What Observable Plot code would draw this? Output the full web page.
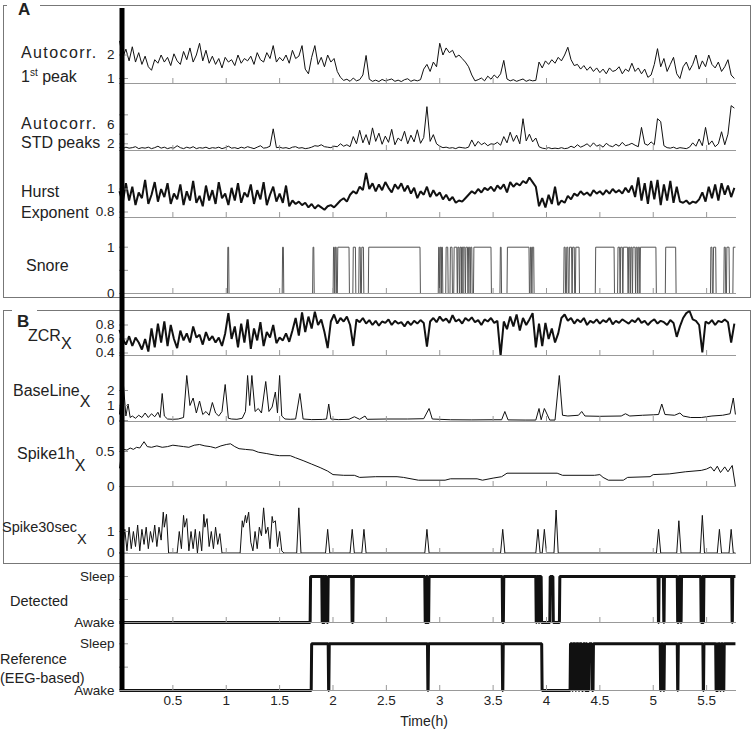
<!DOCTYPE html>
<html><head><meta charset="utf-8">
<script src="https://cdn.jsdelivr.net/npm/d3@7"></script>
<script src="https://cdn.jsdelivr.net/npm/@observablehq/plot@0.6"></script>
<style>
body{margin:0;background:#fff;font-family:Arial,"Liberation Sans",sans-serif;color:#222}
#chart{position:relative;width:753px;height:731px;overflow:hidden;background:#fff}
.box{position:absolute;border:1px solid #777;box-sizing:border-box}
.mask{position:absolute;background:#fff}
.lbl{position:absolute;font-size:16px;line-height:1;white-space:nowrap;transform:translateY(-50%)}
.sm{font-size:14.5px}
.ac{letter-spacing:1.4px}
.sub{position:relative}
.sup{position:relative;font-size:10px;top:-6px}
.big{position:absolute;font-size:17px;font-weight:bold;line-height:1;transform:translateY(-50%)}
</style></head><body><div id="chart"></div>
<script>
// ---------- data ----------
const DT = 0.03;          // sampling step (h) of the regularly sampled features
const TMAX = 5.78;
const timeTicks = [0.5, 1, 1.5, 2, 2.5, 3, 3.5, 4, 4.5, 5, 5.5];

const ac1 = [
2.6,1.9,2.25,1.75,2.35,1.7,2.1,1.6,1.95,1.5,
1.35,1.8,1.65,2.0,1.7,1.9,1.55,2.05,1.75,1.6,
2.15,1.8,2.3,1.7,2.0,2.5,1.75,2.2,1.65,1.95,
1.6,1.85,1.45,1.9,1.7,1.8,1.55,2.0,1.65,1.85,
1.75,1.95,1.6,2.1,1.8,1.7,2.1,1.85,2.4,1.7,
1.9,1.75,2.0,1.65,2.2,1.85,1.95,2.4,1.4,1.2,
1.9,2.4,1.6,1.9,1.5,2.0,1.7,1.85,1.3,1.05,
0.92,0.97,0.88,1.02,0.9,0.95,1.15,1.98,0.97,0.88,
0.93,0.87,0.96,0.9,0.94,0.98,0.88,0.93,0.87,0.95,
0.99,0.88,0.94,0.9,0.95,1.4,1.6,1.3,1.7,1.5,
2.5,2.0,2.3,2.1,2.2,1.9,2.0,1.85,1.7,1.5,
1.15,0.9,0.95,1.02,0.9,1.1,0.97,1.15,1.02,1.2,
1.77,0.98,0.9,0.95,0.88,0.93,0.98,0.88,0.94,0.9,
0.92,1.7,1.45,1.75,1.6,1.8,1.65,1.9,1.75,2.0,
2.33,1.8,1.55,1.6,1.4,1.55,1.35,1.5,1.3,1.45,
1.25,1.4,1.2,1.45,1.3,1.35,1.5,1.2,1.4,1.3,
1.65,1.3,1.45,1.2,1.4,1.05,1.15,1.6,2.27,1.5,
1.85,1.3,1.6,1.9,1.2,1.0,1.5,1.7,1.35,1.6,
2.0,1.4,1.75,1.5,2.0,1.6,1.45,1.7,1.3,1.5,
1.8,1.15,1.0];

const acStd = [
1.2,1.0,1.3,1.1,1.2,1.4,1.0,1.2,1.1,1.3,
1.0,1.2,1.5,1.1,1.3,1.0,1.2,1.1,1.6,1.2,
1.0,1.3,1.1,1.4,1.0,1.2,1.1,1.3,1.0,1.2,
1.1,1.3,1.0,1.2,1.5,1.1,1.2,1.0,1.3,1.1,
1.4,1.2,1.0,1.3,1.6,1.1,1.2,1.5,5.1,1.2,
1.3,1.1,1.2,1.0,1.3,1.4,1.1,1.2,1.0,1.1,
1.3,1.6,1.5,1.8,1.4,1.3,1.2,1.5,1.4,2.0,
1.5,1.8,1.4,3.5,2.0,4.8,2.2,3.9,1.8,5.3,
2.5,4.2,1.9,3.6,2.3,5.0,1.8,3.2,2.6,4.6,
2.0,3.8,2.4,4.9,2.1,3.3,9.7,2.5,3.9,2.0,
1.5,1.2,1.3,1.1,1.2,1.0,1.3,1.2,1.1,1.3,
2.8,1.5,2.5,1.8,2.2,1.6,2.0,1.9,2.3,1.7,
3.5,2.2,4.4,2.5,3.8,2.0,7.2,2.6,4.0,2.4,
3.2,1.4,1.1,1.0,1.2,1.0,1.1,1.0,1.2,1.0,
1.1,1.5,1.2,1.8,1.3,1.6,2.0,1.4,2.2,1.5,
1.8,1.3,2.1,1.6,1.4,1.9,1.5,2.3,1.6,1.8,
2.1,1.7,1.4,5.4,2.0,1.7,2.4,1.8,7.2,6.6,
1.6,1.2,1.1,1.3,1.0,1.2,1.1,1.0,1.3,2.2,
1.5,3.0,1.6,5.4,1.8,2.6,1.4,2.0,4.5,1.8,
4.0,9.9,9.4];

const hurst = [
0.98,0.88,1.05,0.9,1.02,0.86,0.97,0.92,1.08,0.87,
0.95,1.06,0.89,1.0,0.93,1.05,0.87,0.96,0.91,1.04,
0.86,0.98,0.9,1.07,0.88,0.94,0.85,1.03,0.9,0.99,
0.87,1.06,0.92,0.96,0.86,1.01,0.9,1.05,0.88,0.97,
0.93,1.04,0.87,0.99,0.91,1.06,0.86,0.95,1.02,0.89,
0.96,0.88,1.03,0.85,0.9,0.87,0.89,0.86,0.88,0.84,
0.87,0.83,0.86,0.84,0.82,0.85,0.86,0.84,0.87,0.9,
0.92,0.89,0.95,0.98,0.96,1.02,0.99,1.14,1.0,1.05,
0.98,1.04,0.99,1.06,1.01,0.97,1.04,1.0,1.05,0.98,
1.03,0.96,1.01,0.92,0.98,0.95,1.02,0.93,0.99,0.94,
0.97,0.91,0.95,0.9,0.93,0.88,0.9,0.89,0.92,0.95,
0.98,0.96,1.0,0.97,1.01,0.99,1.02,0.98,1.03,1.0,
1.04,0.97,1.06,1.02,1.05,1.03,1.07,1.05,1.1,1.06,
1.02,0.85,0.92,0.84,0.95,0.87,1.02,0.86,0.9,0.88,
0.94,0.91,0.96,0.94,0.98,0.95,0.97,0.94,0.99,0.96,
0.98,0.95,0.99,0.96,1.0,0.97,0.99,0.96,1.01,0.97,
1.03,0.93,1.1,0.9,1.05,0.87,1.07,0.91,1.08,0.86,
1.04,0.9,1.07,0.88,1.02,0.89,0.88,0.9,0.87,0.89,
0.88,0.91,0.97,0.89,1.02,0.92,1.04,0.9,1.05,0.95,
1.03,0.93,1.01];

const zcr = [
0.73,0.6,0.52,0.64,0.5,0.62,0.55,0.45,0.6,0.42,
0.75,0.48,0.82,0.55,0.85,0.5,0.8,0.6,0.47,0.72,
0.58,0.68,0.55,0.78,0.62,0.66,0.52,0.7,0.58,0.64,
0.55,0.62,0.5,0.68,0.97,0.6,0.78,0.48,0.82,0.55,
0.88,0.46,0.75,0.58,0.84,0.5,0.7,0.62,0.8,0.54,
0.62,0.58,0.68,0.56,0.72,0.9,0.65,0.98,0.7,0.92,
0.75,0.99,0.8,0.88,0.7,0.47,0.85,0.95,0.82,0.9,
0.85,0.92,0.8,0.5,0.88,0.84,0.9,0.82,0.87,0.8,
0.86,0.79,0.85,0.83,0.88,0.8,0.86,0.82,0.84,0.78,
0.85,0.8,0.86,0.82,0.87,0.83,0.49,0.85,0.9,0.84,
0.92,0.86,0.89,0.83,0.94,0.85,0.88,0.82,0.9,0.86,
0.91,0.84,0.87,0.8,0.88,0.85,0.9,0.83,0.86,0.36,
0.85,0.74,0.92,0.78,0.95,0.72,0.9,0.8,0.88,0.97,
0.48,0.82,0.5,0.83,0.6,0.75,0.55,0.68,0.9,0.95,
0.86,0.9,0.82,0.88,0.84,0.9,0.8,0.86,0.83,0.88,
0.82,0.87,0.84,0.9,0.81,0.86,0.83,0.88,0.85,0.82,
0.87,0.84,0.9,0.83,0.86,0.8,0.85,0.88,0.82,0.86,
0.84,0.8,0.87,0.83,0.63,0.78,0.9,0.97,1.0,0.88,
0.86,0.8,0.41,0.85,0.82,0.87,0.8,0.86,0.84,0.88,
0.84,0.55,0.82];

const baseLineT = [0,0.03,0.06,0.08,0.1,0.12,0.15,0.18,0.21,0.24,0.27,0.3,0.33,0.36,0.38,0.4,0.42,0.45,0.5,0.55,0.6,0.63,0.66,0.69,0.72,0.75,0.78,0.81,0.84,0.87,0.9,0.93,0.96,0.99,1.02,1.05,1.1,1.15,1.18,1.2,1.22,1.24,1.27,1.3,1.33,1.37,1.4,1.43,1.46,1.48,1.5,1.52,1.55,1.6,1.65,1.69,1.72,1.8,1.9,1.94,1.96,1.98,2.05,2.15,2.2,2.25,2.3,2.32,2.5,2.7,2.85,2.9,2.93,3.1,3.3,3.5,3.58,3.61,3.64,3.8,3.9,3.93,3.95,3.98,4.0,4.03,4.08,4.12,4.15,4.2,4.3,4.33,4.36,4.5,4.7,4.74,4.78,4.9,5.0,5.05,5.08,5.11,5.2,5.25,5.28,5.35,5.45,5.55,5.65,5.72,5.75,5.77];
const baseLineV = [0.4,3.0,0.3,1.1,0.2,0.3,0.15,0.35,0.2,0.5,0.2,0.45,0.25,0.55,0.2,1.8,0.3,0.1,0.08,0.1,0.2,3.0,1.0,1.5,0.5,1.3,0.4,0.6,0.35,1.2,0.5,0.3,0.6,2.4,0.15,0.1,0.08,0.15,0.6,3.0,1.0,3.0,0.6,0.8,0.5,2.6,0.6,0.9,1.9,0.5,3.0,0.3,0.1,0.08,0.1,1.8,0.1,0.06,0.07,0.1,1.1,0.1,0.06,0.08,0.25,0.08,0.3,0.08,0.1,0.1,0.12,0.8,0.1,0.05,0.04,0.05,0.05,0.6,0.04,0.03,0.03,0.8,0.05,0.8,0.5,0.03,0.03,3.0,0.35,0.3,0.35,0.6,0.3,0.28,0.3,0.45,0.3,0.35,0.38,0.4,1.1,0.4,0.35,0.5,0.3,0.2,0.2,0.3,0.35,0.45,1.5,0.4];

const spike1hT = [0,0.02,0.04,0.07,0.1,0.13,0.16,0.19,0.23,0.26,0.3,0.35,0.4,0.45,0.5,0.55,0.6,0.65,0.7,0.75,0.8,0.85,0.9,0.95,1.0,1.04,1.08,1.12,1.18,1.25,1.3,1.38,1.45,1.5,1.6,1.65,1.72,1.8,1.88,1.95,2.0,2.1,2.2,2.25,2.4,2.6,2.66,2.8,3.05,3.1,3.35,3.4,3.5,3.58,3.63,4.1,4.15,4.45,4.5,4.53,4.58,4.72,4.76,4.97,5.0,5.15,5.3,5.45,5.5,5.54,5.57,5.6,5.63,5.67,5.7,5.74,5.77];
const spike1hV = [0.26,0.48,0.53,0.52,0.55,0.53,0.56,0.55,0.64,0.57,0.56,0.58,0.56,0.57,0.59,0.58,0.57,0.56,0.59,0.6,0.58,0.57,0.55,0.58,0.6,0.61,0.57,0.54,0.53,0.52,0.49,0.47,0.45,0.44,0.44,0.41,0.37,0.32,0.27,0.22,0.17,0.16,0.16,0.13,0.14,0.14,0.13,0.09,0.09,0.11,0.11,0.09,0.12,0.14,0.19,0.19,0.16,0.16,0.17,0.13,0.09,0.09,0.13,0.14,0.17,0.18,0.21,0.23,0.25,0.28,0.22,0.29,0.2,0.28,0.21,0.3,0.0];

const spike30T = [0,0.03,0.05,0.07,0.09,0.11,0.13,0.15,0.17,0.19,0.21,0.23,0.25,0.27,0.29,0.31,0.33,0.35,0.37,0.39,0.41,0.42,0.44,0.46,0.54,0.56,0.58,0.6,0.61,0.63,0.65,0.67,0.69,0.71,0.73,0.75,0.77,0.79,0.8,0.82,0.84,0.86,0.88,0.9,0.92,0.94,0.96,1.13,1.15,1.16,1.18,1.19,1.21,1.23,1.25,1.27,1.29,1.31,1.33,1.35,1.37,1.39,1.41,1.43,1.44,1.46,1.48,1.5,1.52,1.54,1.66,1.68,1.7,1.93,1.95,1.97,2.16,2.18,2.2,2.27,2.29,2.31,2.86,2.88,2.9,3.57,3.59,3.61,3.9,3.92,3.94,3.96,3.98,4.0,4.07,4.09,4.11,5.03,5.05,5.07,5.22,5.24,5.26,5.44,5.46,5.48,5.6,5.62,5.64,5.71,5.73,5.75,5.77];
const spike30V = [0,0.2,1.1,0.1,1.2,0.2,1.0,0.3,1.3,0.1,1.1,0.4,1.2,0.2,1.0,0.5,1.3,0.3,1.2,0.6,1.9,1.2,1.8,0,0,1.0,0.2,1.75,1.2,1.6,0.1,1.0,0.2,1.1,0,1.0,0.1,1.8,1.2,1.6,0.3,1.0,0.2,1.2,0.4,0.9,0,0,1.5,1.2,1.75,1.4,1.9,0.5,0.1,1.0,0.2,1.2,0.8,2.1,0.9,1.2,0.2,1.7,1.4,1.5,0.3,1.0,0.1,0,0,2.1,0,0,1.1,0,0,1.1,0,0,1.1,0,0,1.1,0,0,1.1,0,0,1.1,0,0,1.1,0,0,2.0,0,0,1.1,0,0,1.5,0,0,1.75,0,0,1.1,0,0,1.1,0,0];

// snore episodes (start/end, h)
const snoreOn  = [1.015,1.528,1.813,2.005,2.022,2.045,2.19,2.245,2.27,2.335,2.99,3.005,3.018,3.06,3.1,3.135,3.17,3.19,3.205,3.22,3.245,3.27,3.29,3.32,3.568,3.634,3.85,3.868,4.165,4.19,4.215,4.245,4.275,4.461,4.67,4.695,4.72,4.77,4.79,4.81,4.84,4.86,4.88,5.117,5.54,5.565,5.665,5.69,5.75];
const snoreOff = [1.022,1.535,1.82,2.012,2.03,2.15,2.21,2.255,2.285,2.815,2.995,3.012,3.025,3.075,3.115,3.16,3.18,3.2,3.215,3.235,3.26,3.28,3.3,3.48,3.575,3.836,3.858,3.88,4.175,4.2,4.235,4.26,4.305,4.633,4.685,4.71,4.76,4.78,4.8,4.83,4.85,4.87,5.025,5.21,5.55,5.585,5.675,5.71,5.77];

// sleep episodes (start/end, h)
const detectedOn  = [1.79,1.905,1.925,1.955,2.19,2.875,2.9,3.6,3.91,3.935,4.035,4.125,5.055,5.105,5.24,5.265,5.46,5.475,5.745];
const detectedOff = [1.895,1.915,1.94,2.175,2.86,2.885,3.585,3.9,3.925,3.95,4.06,5.045,5.095,5.225,5.255,5.445,5.465,5.735,5.77];
const referenceOn  = [1.8,1.965,2.895,3.595,4.225,4.25,4.28,4.31,4.345,4.37,4.4,4.44,5.075,5.105,5.235,5.475,5.595,5.61,5.635,5.665];
const referenceOff = [1.955,2.885,3.585,3.955,4.24,4.27,4.3,4.33,4.36,4.38,4.425,5.065,5.095,5.225,5.465,5.585,5.6,5.625,5.655,5.77];

// ---------- helpers ----------
const TEND = 5.77;
const series = arr => arr.map((v, i) => ({t: i * DT, v}));
const pairs = (ts, vs) => ts.map((t, i) => ({t, v: vs[i]}));
function steps(on, off, edge) {
  const pts = [{t: 0, v: 0}];
  on.forEach((s, i) => {
    const e = off[i];
    pts.push({t: s - edge, v: 0}, {t: s, v: 1}, {t: e, v: 1});
    if (e < TEND) pts.push({t: e + edge, v: 0});
  });
  const last = pts[pts.length - 1];
  if (last.t < TEND) pts.push({t: TEND, v: last.v});
  return pts;
}
const stateFmt = d => d === 1 ? "Sleep" : d === 0 ? "Awake" : "";

const layout = [
  {top: 8,   base: 83,  cal: [[1, 78], [2, 54.5]],    marks: [1, 2],         labels: [1, 2],          data: series(ac1),   w: 1},
  {top: 83,  base: 150, cal: [[2, 143.3], [6, 124]],  marks: [2, 4, 8],      labels: [2, 6],          data: series(acStd), w: 1},
  {top: 150, base: 217, cal: [[0.8, 211.5], [1, 188.5]], marks: [0.8, 1],    labels: [0.8, 1],        data: series(hurst), w: 2},
  {top: 217, base: 293, cal: [[0, 293], [1, 246.7]],  marks: [0, 0.5, 1],    labels: [0, 1],          data: steps(snoreOn, snoreOff, 0.004), w: 1, color: "#555"},
  {top: 293, base: 355, cal: [[0.4, 352.5], [0.8, 324.5]], marks: [0.4, 0.6, 0.8], labels: [0.4, 0.6, 0.8], data: series(zcr), w: 2},
  {top: 355, base: 421, cal: [[0, 420], [2, 390]],    marks: [0, 1, 2],      labels: [0, 1, 2],       data: pairs(baseLineT, baseLineV), w: 1},
  {top: 421, base: 486, cal: [[0, 486], [0.5, 451]],  marks: [0, 0.5],       labels: [0, 0.5],        data: pairs(spike1hT, spike1hV), w: 1},
  {top: 486, base: 553, cal: [[0, 552.5], [1, 531]],  marks: [0, 1],         labels: [0, 1],          data: pairs(spike30T, spike30V), w: 1},
  {top: 553, base: 622, cal: [[0, 622], [1, 576]],    marks: [0, 0.5, 1],    labels: [0, 1], fmt: stateFmt, data: steps(detectedOn, detectedOff, 0.004), w: 3},
  {top: 622, base: 690, cal: [[0, 690], [1, 643.3]],  marks: [0, 0.5, 1],    labels: [0, 1], fmt: stateFmt, data: steps(referenceOn, referenceOff, 0.004), w: 3, xLabels: true}
];

// ---------- frame decorations ----------
const chart = document.getElementById("chart");
function el(cls, css, html) {
  const d = document.createElement("div");
  d.className = cls; Object.assign(d.style, css);
  if (html) d.innerHTML = html;
  chart.appendChild(d); return d;
}
el("box", {left: "3px", top: "5px", width: "748px", height: "293px"});
el("box", {left: "3px", top: "310px", width: "748px", height: "254px"});
el("mask", {left: "7px", top: "0px", width: "33px", height: "10px"});
el("mask", {left: "12px", top: "306px", width: "25px", height: "8px"});
el("big", {left: "18px", top: "9px"}, "A");
el("big", {left: "17px", top: "321px"}, "B");

const sub = (t, off) => `${t}<span class="sub" style="top:${off}px">X</span>`;
const labels = [
  ["Autocorr.", 21, 53, "lbl ac"], ["1<span class='sup'>st</span> peak", 21, 77, "lbl"],
  ["Autocorr.", 21, 124, "lbl ac"], ["STD peaks", 21, 142.5, "lbl"],
  ["Hurst", 21, 192, "lbl"], ["Exponent", 21, 212.5, "lbl"],
  ["Snore", 26, 266, "lbl"],
  [sub("ZCR", 8), 28, 336, "lbl"], [sub("BaseLine", 11), 13, 391, "lbl"],
  [sub("Spike1h", 12), 17, 454, "lbl"], [sub("Spike30sec", 12), 2, 527, "lbl sm"],
  ["Detected", 10, 600.5, "lbl sm"], ["Reference", 0, 659, "lbl sm"], ["(EEG-based)", 0, 677.5, "lbl sm"]
];
for (const [h, x, y, c] of labels) el(c, {left: x + "px", top: y + "px"}, h);
el("lbl", {left: "424px", top: "721px", transform: "translate(-50%,-50%)", fontSize: "14px"}, "Time(h)");

// ---------- panels ----------
const W = 753, ML = 119, MR = 17;
for (const p of layout) {
  const [[va, pa], [vb, pb]] = p.cal;
  const ppu = (pa - pb) / (vb - va);
  const h = p.base - p.top;
  const vBase = va - (p.base - pa) / ppu;
  const vTop = vBase + h / ppu;
  const mb = p.xLabels ? 41 : 0;
  const marks = [
    Plot.line(p.data, {x: "t", y: "v", stroke: p.color || "#111", strokeWidth: p.w, strokeLinejoin: "miter", strokeLinecap: "butt"}),
    Plot.ruleY([vBase], {stroke: "#999"}),
    Plot.ruleX(timeTicks, {x: d => d, insetTop: h - 5, stroke: "#999"}),
    Plot.ruleY(p.marks, {y: d => d, insetRight: W - ML - MR - 9, stroke: "#999"}),
    Plot.text(p.labels, {y: d => d, frameAnchor: "left", dx: -5, textAnchor: "end", text: p.fmt || (d => String(d)), fontSize: 13.5, fill: "#222"}),
    Plot.ruleX([0], {strokeWidth: 5, dx: 2.5, stroke: "#000"})
  ];
  if (p.xLabels) marks.push(Plot.text(timeTicks, {x: d => d, frameAnchor: "bottom", dy: 14, text: d => String(d), fontSize: 13.5, fill: "#222"}));
  const svg = Plot.plot({
    width: W, height: h + mb,
    marginLeft: ML, marginRight: MR, marginTop: 0, marginBottom: mb,
    x: {domain: [0, TMAX], axis: null},
    y: {domain: [vBase, vTop], axis: null},
    style: {background: "none", overflow: "visible", fontFamily: "Arial, 'Liberation Sans', sans-serif", fontSize: "14px"},
    marks
  });
  svg.style.position = "absolute";
  svg.style.left = "0px";
  svg.style.top = p.top + "px";
  chart.appendChild(svg);
}
</script></body></html>
